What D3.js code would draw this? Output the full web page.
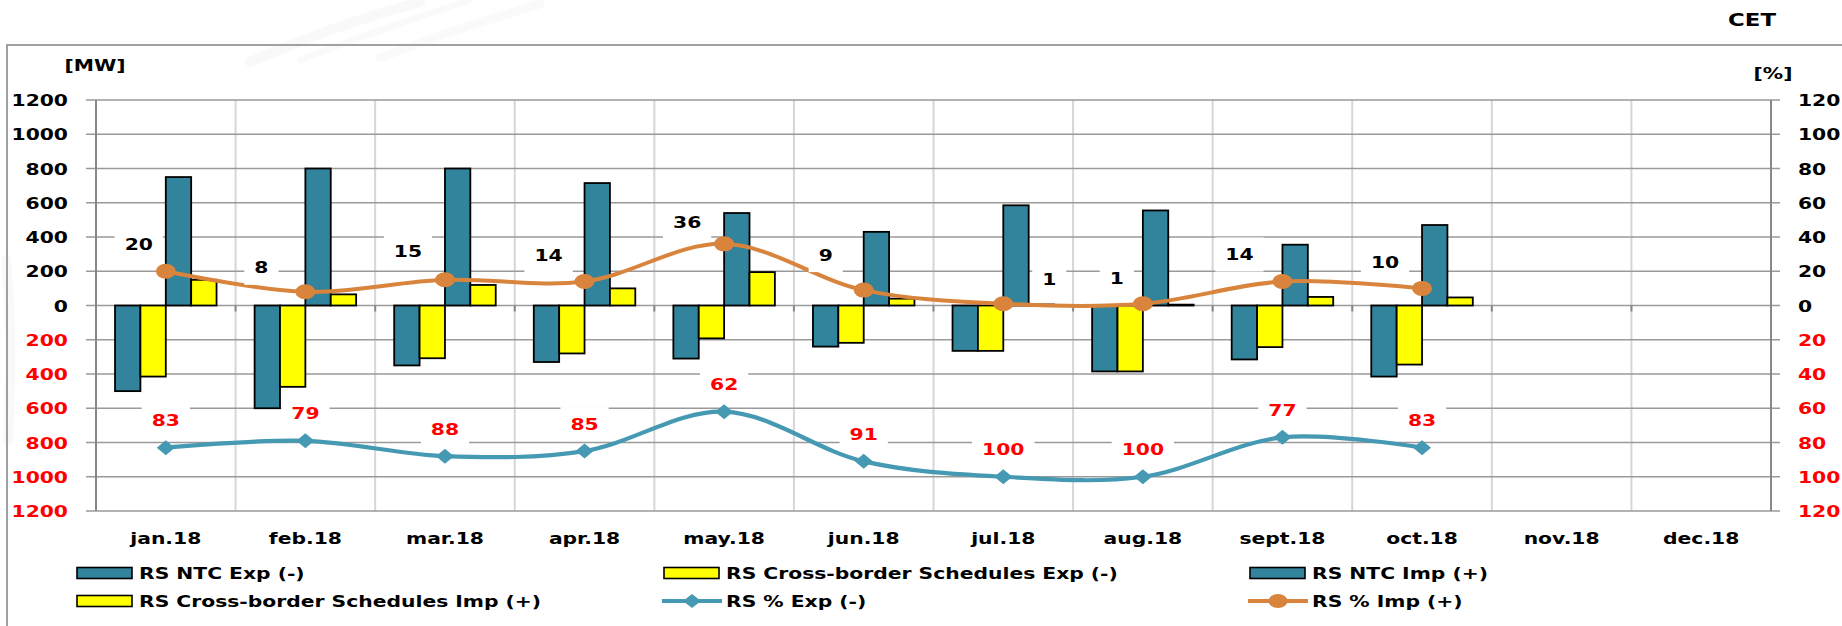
<!DOCTYPE html>
<html>
<head>
<meta charset="utf-8">
<script src="https://cdn.jsdelivr.net/npm/d3@7"></script>
<style>
  html, body { margin: 0; padding: 0; background: #ffffff; }
  svg { display: block; }
  text { font-family: "DejaVu Sans", Verdana, sans-serif; font-weight: bold; }
</style>
</head>
<body>
<svg id="chart" width="1842" height="626"></svg>
<script>
// Monthly categories
const months = ["jan.18", "feb.18", "mar.18", "apr.18", "may.18", "jun.18",
                "jul.18", "aug.18", "sept.18", "oct.18", "nov.18", "dec.18"];

// Export values [MW] (plotted below zero)
const ntcExp   = [500, 600, 350, 330, 310, 240, 265, 385, 315, 415];
const schedExp = [415, 475, 308, 280, 192, 218, 265, 385, 243, 345];

// Import values [MW] (plotted above zero)
const ntcImp   = [750, 800, 800, 715, 540, 430, 585, 555, 355, 470];
const schedImp = [150, 65, 120, 100, 195, 40, 6, 5, 50, 47];

// Utilisation [%]
const pctExp = [83, 79, 88, 85, 62, 91, 100, 100, 77, 83];
const pctImp = [20, 8, 15, 14, 36, 9, 1, 1, 14, 10];

// Axis tick values
const mwTicks  = [-1200, -1000, -800, -600, -400, -200, 0, 200, 400, 600, 800, 1000, 1200];
const pctTicks = [-120, -100, -80, -60, -40, -20, 0, 20, 40, 60, 80, 100, 120];

// Label nudges for the import-% labels (pixels, relative to each point)
const impLabelDx = [-27, -44, -37, -36, -37, -38, 46, -26, -43, -37];
const impLabelDy = [-27, -24, -28, -26, -22, -35, -24, -25, -27, -26];

const COLORS = {
  teal: "#31849b",
  yellow: "#ffff00",
  orange: "#d9843c",
  blueLine: "#4599b2",
  red: "#ff0000",
  grid: "#9a9a9a",
  vgrid: "#d6d6d6",
  axis: "#888888"
};
const SX = 1.27; // horizontal text stretch
const FS = 16;

const svg = d3.select("#chart");

// faint background brush strokes
const gBg = svg.append("g").attr("fill", "none").attr("stroke-linecap", "round");
[
  { d: "M250,62 C300,40 360,18 420,2", w: 10, o: 0.05 },
  { d: "M300,60 C350,40 410,20 470,0", w: 7, o: 0.045 },
  { d: "M380,58 C420,42 480,22 540,4", w: 9, o: 0.04 },
  { d: "M6,260 C10,300 12,360 8,440", w: 10, o: 0.05 }
].forEach(s => gBg.append("path").attr("d", s.d)
  .attr("stroke", "#888").attr("stroke-width", s.w).attr("opacity", s.o));

const P = { left: 96, right: 1771, top: 100, bottom: 511 };

const x = d3.scaleBand().domain(months).range([P.left, P.right]).padding(0);
const seriesKeys = ["ntcExp", "schedExp", "ntcImp", "schedImp"];
const xs = d3.scaleBand().domain(seriesKeys).range([0, x.bandwidth()])
  .paddingInner(0).paddingOuter(0.75);
const y = d3.scaleLinear().domain([-1200, 1200]).range([P.bottom, P.top]);
const yPct = d3.scaleLinear().domain([-120, 120]).range([P.bottom, P.top]);

// stretched text helper
function stext(g, tx, ty, str, anchor, color, size) {
  return g.append("text")
    .attr("transform", `translate(${tx},${ty}) scale(${SX},1)`)
    .attr("text-anchor", anchor || "middle")
    .attr("dominant-baseline", "central")
    .attr("font-size", size || FS)
    .attr("fill", color || "#000")
    .text(str);
}

// outer frame
svg.append("rect")
  .attr("x", 7).attr("y", 45).attr("width", 1900).attr("height", 700)
  .attr("fill", "none").attr("stroke", "#8a8a8a").attr("stroke-width", 1.6);

// vertical gridlines between months
const gGrid = svg.append("g");
gGrid.selectAll("line.v")
  .data(months.slice(1))
  .join("line")
  .attr("x1", d => x(d)).attr("x2", d => x(d))
  .attr("y1", P.top).attr("y2", P.bottom)
  .attr("stroke", COLORS.vgrid).attr("stroke-width", 2);

// horizontal gridlines
gGrid.selectAll("line.h")
  .data(mwTicks)
  .join("line")
  .attr("x1", P.left - 10).attr("x2", P.right + 9)
  .attr("y1", d => y(d)).attr("y2", d => y(d))
  .attr("stroke", COLORS.grid).attr("stroke-width", 1.6);

// axis lines
[P.left, P.right].forEach(ax => {
  gGrid.append("line")
    .attr("x1", ax).attr("x2", ax).attr("y1", P.top).attr("y2", P.bottom)
    .attr("stroke", COLORS.axis).attr("stroke-width", 2);
});

// category ticks on the zero line
gGrid.selectAll("line.t")
  .data(months.slice(1))
  .join("line")
  .attr("x1", d => x(d)).attr("x2", d => x(d))
  .attr("y1", y(0)).attr("y2", y(0) + 6)
  .attr("stroke", COLORS.axis).attr("stroke-width", 2);

// left axis labels
const leftAxis = svg.append("g")
  .attr("transform", `translate(${P.left},0)`)
  .call(d3.axisLeft(y).tickValues(mwTicks).tickSize(0).tickFormat(d => Math.abs(d)));
leftAxis.select(".domain").remove();
leftAxis.selectAll("text")
  .attr("x", 0).attr("dy", null)
  .attr("dominant-baseline", "central")
  .attr("transform", `translate(-28,0) scale(${SX},1)`)
  .attr("font-size", FS)
  .attr("font-family", "DejaVu Sans")
  .attr("fill", d => d < 0 ? COLORS.red : "#000");

// right axis labels
const rightAxis = svg.append("g")
  .attr("transform", `translate(${P.right},0)`)
  .call(d3.axisRight(yPct).tickValues(pctTicks).tickSize(0).tickFormat(d => Math.abs(d)));
rightAxis.select(".domain").remove();
rightAxis.selectAll("text")
  .attr("x", 0).attr("dy", null)
  .attr("dominant-baseline", "central")
  .attr("transform", `translate(27,0) scale(${SX},1)`)
  .attr("font-size", FS)
  .attr("font-family", "DejaVu Sans")
  .attr("fill", d => d < 0 ? COLORS.red : "#000");

// category labels
const gCat = svg.append("g");
months.forEach(m => stext(gCat, x(m) + x.bandwidth() / 2, 538, m));

// unit labels
stext(svg, 95, 65, "[MW]");
stext(svg, 1773, 73, "[%]");
stext(svg, 1752, 20, "CET", "middle", "#000", 18);

// bars
const barSeries = [
  { key: "ntcExp", values: ntcExp, sign: -1, color: COLORS.teal },
  { key: "schedExp", values: schedExp, sign: -1, color: COLORS.yellow },
  { key: "ntcImp", values: ntcImp, sign: 1, color: COLORS.teal },
  { key: "schedImp", values: schedImp, sign: 1, color: COLORS.yellow }
];
const gBars = svg.append("g");
barSeries.forEach(s => {
  gBars.selectAll(null)
    .data(s.values.map((v, i) => ({ m: months[i], v: v * s.sign })))
    .join("rect")
    .attr("x", d => x(d.m) + xs(s.key))
    .attr("width", xs.bandwidth())
    .attr("y", d => Math.min(y(d.v), y(0)))
    .attr("height", d => Math.abs(y(d.v) - y(0)))
    .attr("fill", s.color)
    .attr("stroke", "#000")
    .attr("stroke-width", 1.8);
});

// percentage lines
const cx = i => x(months[i]) + x.bandwidth() / 2;
const line = d3.line().curve(d3.curveCatmullRom.alpha(0.5));

const expPts = pctExp.map((v, i) => [cx(i), yPct(-v)]);
const impPts = pctImp.map((v, i) => [cx(i), yPct(v)]);

svg.append("path").attr("d", line(expPts))
  .attr("fill", "none").attr("stroke", COLORS.blueLine).attr("stroke-width", 4.2);
svg.append("path").attr("d", line(impPts))
  .attr("fill", "none").attr("stroke", COLORS.orange).attr("stroke-width", 4);

// markers
const diamond = (px, py, hw, hh) => `M${px - hw},${py} L${px},${py - hh} L${px + hw},${py} L${px},${py + hh} Z`;
svg.append("g").selectAll("path")
  .data(expPts).join("path")
  .attr("d", d => diamond(d[0], d[1], 9, 7.5))
  .attr("fill", COLORS.blueLine);
svg.append("g").selectAll("ellipse")
  .data(impPts).join("ellipse")
  .attr("cx", d => d[0]).attr("cy", d => d[1])
  .attr("rx", 10).attr("ry", 7.5)
  .attr("fill", COLORS.orange);

// data labels with white boxes
function boxedLabel(lx, ly, str, color) {
  const g = svg.append("g");
  const r = g.append("rect").attr("fill", "#fff");
  const t = stext(g, lx, ly, str, "middle", color);
  const w = t.node().getBBox().width * SX + 20;
  r.attr("x", lx - w / 2).attr("y", ly - 17).attr("width", w).attr("height", 34);
}
pctImp.forEach((v, i) => {
  boxedLabel(impPts[i][0] + impLabelDx[i], impPts[i][1] + impLabelDy[i], String(v), "#000");
});
pctExp.forEach((v, i) => {
  boxedLabel(expPts[i][0], expPts[i][1] - 27, String(v), COLORS.red);
});

// legend
const legendItems = [
  { name: "RS NTC Exp (-)", type: "bar", color: COLORS.teal },
  { name: "RS Cross-border Schedules Exp (-)", type: "bar", color: COLORS.yellow },
  { name: "RS NTC Imp (+)", type: "bar", color: COLORS.teal },
  { name: "RS Cross-border Schedules Imp (+)", type: "bar", color: COLORS.yellow },
  { name: "RS % Exp (-)", type: "diamond", color: COLORS.blueLine },
  { name: "RS % Imp (+)", type: "circle", color: COLORS.orange }
];
const legCols = [77, 664, 1250];
const legRows = [573, 601];
const gLeg = svg.append("g");
legendItems.forEach((it, i) => {
  const lx = legCols[i % 3], ly = legRows[Math.floor(i / 3)];
  if (it.type === "bar") {
    gLeg.append("rect").attr("x", lx).attr("y", ly - 5.5).attr("width", 55).attr("height", 11)
      .attr("fill", it.color).attr("stroke", "#000").attr("stroke-width", 1.6);
  } else {
    gLeg.append("line").attr("x1", lx - 2).attr("x2", lx + 58).attr("y1", ly).attr("y2", ly)
      .attr("stroke", it.color).attr("stroke-width", 4);
    if (it.type === "diamond") {
      gLeg.append("path").attr("d", diamond(lx + 28, ly, 9, 7)).attr("fill", it.color);
    } else {
      gLeg.append("ellipse").attr("cx", lx + 28).attr("cy", ly).attr("rx", 9.5).attr("ry", 7)
        .attr("fill", it.color);
    }
  }
  stext(gLeg, lx + 62, ly, it.name, "start");
});
</script>
</body>
</html>
